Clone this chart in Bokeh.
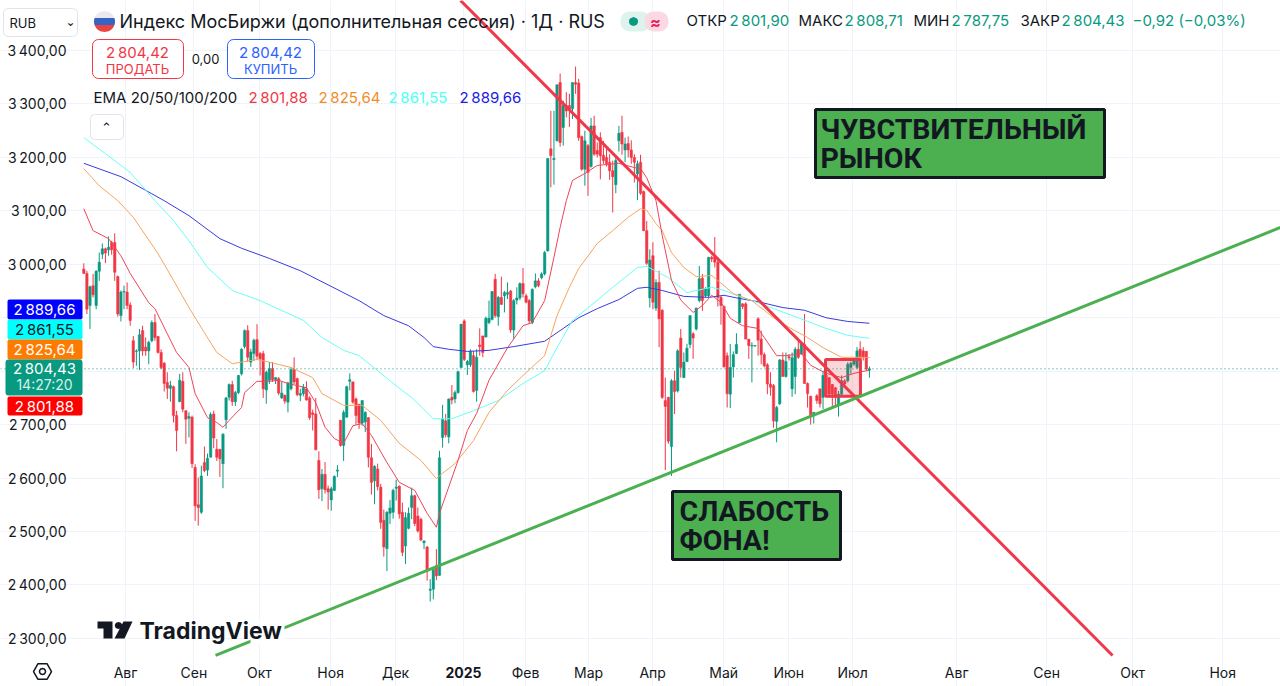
import math
from bokeh.embed import file_html
from bokeh.resources import INLINE
from bokeh.models import (BoxAnnotation, ColumnDataSource, FixedTicker, Label,
                          PolyAnnotation, Range1d, Span)
from bokeh.plotting import figure

TITLE = "Индекс МосБиржи (дополнительная сессия) · 1Д · RUS"
LAST_PRICE = 2804.43

OPENS = [2991,2983,2923,2960,2923,2987,3019,3029,3027,3041,3041,2977,2904,2948,2948,2924,
2857,2837,2838,2876,2845,2838,2857,2891,2865,2835,2815,2779,2768,2771,2717,2743,2781,2726,2712,2714,
2620,2550,2536,2629,2615,2639,2720,2654,2654,2627,2709,2751,2775,2743,2760,2795,
2846,2876,2817,2833,2859,2833,2833,2765,2783,2805,2784,2786,2750,2755,2742,2767,2803,2786,2755,2758,2767,2750,2722,2720,
2633,2580,2607,2580,2559,2577,2613,2708,2661,2714,2781,2780,2748,2738,2703,2705,2713,2638,2595,2617,2583,2521,2468,2534,2536,2581,2585,
2536,2473,2506,2545,2567,2529,2523,2479,2471,2390,2392,2436,2418,2676,2707,2677,2751,2748,2760,2807,2894,2812,2812,2829,2764,2849,2866,2864,2891,2897,2972,2902,2938,2941,2944,2950,2877,2933,2937,2964,2941,2932,2891,2958,2969,2975,
2982,3025,3216,3196,3231,3340,3256,3297,3297,3291,3340,3339,3239,3178,3222,3183,3259,3213,3237,3204,3200,3191,3175,3149,3231,3247,3214,3226,3214,3200,3169,3191,3136,3063,2937,3016,2918,
2966,2914,2745,2751,2659,2782,2763,2862,2788,2818,2850,2870,2879,2932,2974,2941,2941,3013,3014,3004,2938,2921,2829,2757,2808,2833,2891,2926,2926,2860,2847,2847,2898,2860,2831,2812,2776,2773,2706,2739,2821,2790,2827,2767,2790,2841,2832,2850,2777,2753,2719,2754,2767,2751,2792,2788,2775,2769,2739,2757,2782,2782,2807,2813,2807,2841,2838,2837,2801.90]
HIGHS = [3002,2988,2960,2982,2989,3022,3039,3031,3052,3044,3058,2979,2951,2960,2966,2929,
2866,2841,2879,2885,2863,2857,2895,2907,2866,2841,2817,2798,2782,2773,2726,2795,2798,2727,2723,2717,
2626,2601,2623,2659,2646,2723,2726,2673,2654,2684,2752,2777,2782,2763,2793,2843,
2878,2886,2842,2861,2888,2836,2838,2801,2817,2817,2789,2789,2780,2756,2780,2808,2826,2788,2767,2776,2781,2753,2728,2750,
2650,2617,2630,2586,2584,2605,2624,2709,2727,2773,2796,2780,2751,2739,2746,2725,2714,2664,2624,2627,2589,2541,2538,2559,2580,2597,2586,
2554,2536,2545,2582,2569,2545,2526,2484,2473,2411,2429,2467,2651,2737,2720,2749,2774,2764,2801,2888,2897,2821,2841,2838,2841,2880,2866,2902,2932,2950,2982,2941,2977,2950,2966,2952,2935,2957,2966,2993,2945,2935,2955,2983,2974,2985,
3025,3198,3287,3287,3336,3357,3306,3322,3319,3340,3370,3347,3241,3250,3225,3274,3278,3228,3247,3231,3219,3206,3194,3200,3259,3278,3237,3239,3232,3206,3194,3205,3138,3081,3028,3041,2972,
2988,2916,2788,2752,2785,2801,2841,2879,2835,2851,2904,2873,2919,2997,2982,2957,3014,3016,3051,3013,2941,2923,2835,2851,2837,2871,2944,2927,2929,2860,2854,2848,2901,2876,2835,2815,2798,2776,2735,2823,2835,2835,2832,2835,2845,2860,2851,2907,2779,2754,2723,2757,2767,2801,2804,2788,2776,2770,2763,2792,2785,2817,2818,2826,2845,2856,2845,2838,2808.71]
LOWS = [2982,2907,2879,2938,2916,2969,3010,3002,3016,3018,2969,2902,2893,2916,2916,2885,
2806,2810,2802,2829,2829,2813,2854,2857,2833,2804,2762,2748,2743,2704,2650,2742,2723,2664,2676,2619,
2520,2511,2533,2611,2604,2639,2656,2632,2602,2581,2692,2745,2735,2735,2757,2792,
2842,2817,2808,2819,2823,2792,2750,2739,2776,2780,2776,2755,2748,2739,2723,2764,2776,2753,2744,2753,2745,2709,2689,2652,
2561,2557,2571,2541,2539,2576,2602,2659,2632,2713,2764,2739,2700,2692,2698,2686,2620,2569,2551,2577,2505,2453,2426,2514,2524,2558,2524,
2454,2439,2504,2523,2510,2498,2482,2467,2408,2369,2373,2409,2417,2657,2676,2665,2738,2740,2758,2806,2819,2793,2808,2760,2743,2829,2826,2863,2888,2895,2900,2885,2924,2910,2935,2872,2860,2925,2933,2938,2927,2888,2888,2955,2957,2972,
2979,3024,3144,3149,3230,3220,3222,3275,3257,3272,3319,3231,3175,3147,3128,3181,3203,3200,3159,3188,3183,3158,3097,3133,3211,3205,3191,3200,3188,3153,3120,3130,3062,2999,2919,2916,2913,
2845,2748,2615,2664,2604,2720,2760,2788,2787,2817,2843,2823,2876,2929,2913,2938,2938,3004,2994,2921,2887,2807,2732,2731,2788,2832,2890,2916,2860,2823,2779,2846,2829,2813,2807,2757,2754,2694,2667,2737,2790,2788,2820,2752,2757,2823,2831,2776,2732,2700,2702,2739,2732,2729,2751,2751,2735,2735,2715,2754,2770,2779,2795,2810,2804,2820,2820,2801,2787.75]
CLOSES = [2983,2916,2958,2943,2987,3004,3029,3021,3032,3027,2985,2907,2948,2949,2923,2895,
2817,2838,2868,2838,2838,2854,2891,2863,2835,2807,2777,2768,2773,2717,2689,2783,2729,2710,2715,2627,
2548,2545,2604,2614,2637,2719,2675,2639,2636,2682,2750,2775,2743,2760,2792,2841,
2876,2826,2836,2858,2828,2823,2767,2798,2805,2784,2788,2759,2759,2744,2778,2803,2780,2756,2758,2770,2746,2713,2719,2653,
2578,2607,2578,2574,2580,2603,2615,2661,2723,2771,2784,2742,2717,2703,2745,2723,2639,2592,2622,2584,2517,2471,2536,2544,2577,2583,2533,
2461,2526,2534,2567,2515,2501,2484,2482,2426,2392,2429,2417,2638,2710,2681,2748,2746,2760,2799,2888,2822,2818,2837,2762,2826,2846,2835,2899,2899,2949,2904,2938,2925,2947,2947,2877,2932,2937,2964,2945,2929,2894,2953,2969,2960,2982,
3022,3198,3203,3198,3336,3228,3297,3287,3291,3340,3337,3237,3178,3231,3172,3259,3206,3206,3203,3194,3188,3175,3164,3194,3245,3225,3225,3214,3200,3191,3188,3133,3063,3002,3008,2929,2966,
2898,2751,2734,2669,2782,2762,2838,2807,2817,2843,2904,2862,2918,2973,2932,2954,3013,3010,3004,2938,2923,2808,2758,2807,2831,2850,2944,2921,2860,2848,2848,2848,2858,2831,2810,2776,2770,2707,2732,2821,2790,2818,2825,2825,2841,2826,2851,2777,2758,2717,2723,2745,2739,2792,2757,2757,2757,2751,2757,2782,2776,2813,2815,2820,2838,2823,2826,2804,2804.43]

EMA20_IDX = [0,3,8,12,15,21,23,27,30,34,36,40,43,45,47,51,52,56,60,63,66,72,75,78,81,84,87,90,93,98,102,107,111,114,115,121,124,127,131,137,142,145,149,152,154,156,158,162,166,173,178,180,182,185,187,190,193,197,200,203,206,209,213,218,220,224,227,232,235,240,245,249,254]
EMA20 = [3104,3063,3048,3016,2983,2928,2917,2870,2835,2807,2758,2713,2704,2695,2708,2732,2760,2781,2781,2783,2777,2769,2741,2695,2674,2665,2698,2702,2680,2629,2592,2577,2534,2508,2534,2633,2689,2721,2783,2844,2885,2891,2932,3013,3069,3119,3157,3170,3185,3189,3181,3179,3162,3119,3054,2970,2933,2910,2923,2942,2929,2899,2885,2880,2863,2829,2829,2833,2811,2796,2788,2796,2801.88]
EMA50_IDX = [0,5,11,16,24,29,34,39,43,48,56,62,67,74,77,84,90,96,102,109,114,116,120,126,131,137,142,149,153,157,160,166,171,176,180,182,185,187,190,194,198,203,207,210,216,223,228,234,239,245,250,254]
EMA50 = [3179,3147,3119,3088,3020,2970,2919,2872,2835,2814,2822,2814,2807,2788,2758,2736,2736,2708,2665,2633,2599,2609,2627,2670,2723,2764,2792,2829,2904,2957,2992,3039,3063,3088,3104,3101,3076,3063,3022,2994,2977,2979,2960,2945,2932,2900,2882,2863,2844,2826,2826,2825.64]
EMA100_IDX = [0,7,15,23,29,34,40,48,57,71,77,84,89,95,102,106,113,119,126,134,142,149,153,158,164,171,179,182,189,195,203,207,212,218,223,231,239,247,254]
EMA100 = [3237,3207,3172,3119,3082,3044,2994,2951,2932,2895,2863,2839,2829,2801,2768,2751,2711,2711,2726,2745,2777,2801,2844,2895,2923,2957,2994,2996,2975,2947,2957,2951,2940,2928,2917,2900,2882,2867,2861.55]
EMA200_IDX = [0,12,22,26,34,44,51,60,70,89,97,105,110,113,118,124,131,139,149,153,160,166,173,179,182,187,194,202,207,212,218,226,233,240,247,254]
EMA200 = [3189,3164,3132,3119,3091,3048,3030,3011,2988,2932,2904,2885,2863,2846,2841,2837,2839,2846,2856,2872,2900,2917,2934,2955,2957,2951,2940,2938,2942,2936,2930,2919,2914,2900,2893,2889.66]
EMA_LAST = ["2\u2009801,88", "2\u2009825,64", "2\u2009861,55", "2\u2009889,66"]

RED_TREND_X = [121.8, 332.6]
RED_TREND_Y = [3493.6, 2268.1]
GREEN_TREND_X = [42.6, 386.9]
GREEN_TREND_Y = [2268.1, 3069.0]
ZONE_X = [239.8, 251.1]
ZONE_Y = [2753.0, 2822.0]

MONTH_TICKS = [13.5,35.6,56.8,79.8,100.8,122.8,142.8,163.2,183.9,206.9,227.9,248.6,282.2,311.3,339.1,368.2]
MONTH_LABELS = ["Авг","Сен","Окт","Ноя","Дек","2025","Фев","Мар","Апр","Май","Июн","Июл","Авг","Сен","Окт","Ноя"]
PRICE_TICKS = [3400,3300,3200,3100,3000,2900,2800,2700,2600,2500,2400,2300]
PRICE_LABELS = ["3\u2009400,00","3\u2009300,00","3\u2009200,00","3\u2009100,00","3\u2009000,00","","","2\u2009700,00","2\u2009600,00","2\u2009500,00","2\u2009400,00","2\u2009300,00"]

UP = "#089981"; DOWN = "#f23645"; INK = "#131722"; GRID = "#f0f3fa"
FONT = "Inter"
H = 686
AXIS_X = -1.07            # bar position of the price scale
AXIS_Y = 2268.1           # price at the time scale
TOP_Y = 3493.6
RIGHT_X = 386.9

p = figure(width=1280, height=H, output_backend="svg", toolbar_location=None,
           x_range=Range1d(-26.93, RIGHT_X), y_range=Range1d(2210.0, TOP_Y),
           min_border_left=0, min_border_right=0, min_border_top=0, min_border_bottom=0)
p.outline_line_color = None
p.background_fill_color = "white"
p.grid.grid_line_color = GRID
p.grid.grid_line_width = 1
p.xgrid.bounds = (AXIS_Y, TOP_Y)
p.ygrid.bounds = (AXIS_X, RIGHT_X)

p.xaxis.ticker = FixedTicker(ticks=MONTH_TICKS)
p.xaxis.major_label_overrides = {t: ("" if l == "2025" else l) for t, l in zip(MONTH_TICKS, MONTH_LABELS)}
p.yaxis.ticker = FixedTicker(ticks=PRICE_TICKS)
p.yaxis.major_label_overrides = dict(zip(PRICE_TICKS, PRICE_LABELS))
p.xaxis.fixed_location = AXIS_Y
p.yaxis.fixed_location = AXIS_X
for ax in (p.xaxis[0], p.yaxis[0]):
    ax.axis_line_color = None
    ax.major_tick_line_color = None
    ax.minor_tick_line_color = None
    ax.major_label_text_font = FONT
    ax.major_label_text_font_size = "14px"
    ax.major_label_text_color = INK
p.xaxis.major_label_standoff = 3
p.yaxis.major_label_standoff = 8

n = len(OPENS)
src = ColumnDataSource(dict(
    x=list(range(n)), o=OPENS, h=HIGHS, l=LOWS, c=CLOSES,
    color=[UP if c >= o else DOWN for o, c in zip(OPENS, CLOSES)]))
p.segment("x", "l", "x", "h", color="color", line_width=1, source=src)
p.vbar(x="x", bottom="o", top="c", width=0.78, fill_color="color", line_color="color", line_width=0.5, source=src)

p.line(EMA200_IDX, EMA200, line_color="#3a3ae0", line_width=1)
p.line(EMA100_IDX, EMA100, line_color="#66fff5", line_width=1)
p.line(EMA50_IDX, EMA50, line_color="#f9a45c", line_width=1)
p.line(EMA20_IDX, EMA20, line_color="#ef4458", line_width=1)

p.add_layout(Span(location=LAST_PRICE, dimension="width", line_color=UP, line_width=1, line_dash=[1, 3]))

p.quad(left=ZONE_X[0], right=ZONE_X[1], bottom=ZONE_Y[0], top=ZONE_Y[1],
       fill_color=DOWN, fill_alpha=0.2, line_color="#ea3a4c", line_width=3)
p.line(RED_TREND_X, RED_TREND_Y, line_color="#f0384a", line_width=3)
p.line(GREEN_TREND_X, GREEN_TREND_Y, line_color="#4caf50", line_width=3)


def box(x0, y0, x1, y1, fill="white", line=None, lw=1, radius=0):
    p.add_layout(BoxAnnotation(left=x0, right=x1, bottom=H - y1, top=H - y0,
                               left_units="screen", right_units="screen",
                               bottom_units="screen", top_units="screen",
                               fill_color=fill, fill_alpha=1, line_color=line, line_width=lw,
                               line_alpha=1 if line else 0, border_radius=radius))


def txt(x, y, text, size=15, color=INK, style="normal", align="left", font=FONT):
    p.add_layout(Label(x=x, y=H - y, x_units="screen", y_units="screen", text=text,
                       text_font=font, text_font_size=f"{size}px", text_color=color,
                       text_font_style=style, text_align=align, text_baseline="middle"))


def poly(xs, ys, fill, line=None, lw=1):
    p.add_layout(PolyAnnotation(xs=list(xs), ys=[H - b for b in ys],
                                xs_units="screen", ys_units="screen", fill_color=fill, fill_alpha=1,
                                line_color=line, line_width=lw, line_alpha=1 if line else 0))


def band(cx, cy, r, y0, y1, fill):
    steps = [y0 + (y1 - y0) * k / 8 for k in range(9)]
    half = [math.sqrt(max(r * r - (s - cy) ** 2, 0)) for s in steps]
    poly([cx - h for h in half] + [cx + h for h in reversed(half)], steps + steps[::-1], fill)


# header
box(3, 8, 77, 36, line="#e0e3eb", radius=5)
txt(9, 22, "RUB", 13)
txt(70, 21, "\u2304", 12, font="DejaVu Sans", align="center")
band(104, 21, 10.5, 10.5, 17.5, "#e9e9ee")
band(104, 21, 10.5, 17.5, 24.5, "#3464c4")
band(104, 21, 10.5, 24.5, 31.5, "#ea4440")
txt(119, 21, TITLE, 18)
box(620, 11, 650, 31, fill="#dff3ee", radius=9)
box(644, 11, 668, 31, fill="#fbd9e3", radius=9)
band(633, 21, 4.5, 16.5, 25.5, UP)
txt(655, 21, "≈", 16, color="#e91e63", style="bold", align="center")

for lx, lab, vx, val in [(686, "ОТКР", 729, "2\u2009801,90"), (798, "МАКС", 844, "2\u2009808,71"),
                         (913, "МИН", 951, "2\u2009787,75"), (1020, "ЗАКР", 1061, "2\u2009804,43")]:
    txt(lx, 20, lab, 15)
    txt(vx, 20, val, 15, color=UP)
txt(1132, 20, "−0,92 (−0,03%)", 15, color=UP)

box(92, 39, 183, 78, line="#f23645", radius=6)
txt(137, 52, "2\u2009804,42", 15, color="#f23645", align="center")
txt(137, 68, "ПРОДАТЬ", 13, color="#f23645", align="center")
txt(205, 58, "0,00", 13, align="center")
box(227, 39, 314, 78, line="#2962ff", radius=6)
txt(270, 52, "2\u2009804,42", 15, color="#2962ff", align="center")
txt(270, 68, "КУПИТЬ", 13, color="#2962ff", align="center")

txt(93, 97, "EMA 20/50/100/200", 15)
for x, val, col in zip((248, 318, 388, 459), EMA_LAST, ("#f23645", "#f28c28", "#4dfff5", "#2020e0")):
    txt(x, 97, val, 15, color=col)
box(90, 114, 123, 139, line="#e0e3eb", radius=4)
txt(106, 127, "\u2303", 13, font="DejaVu Sans", align="center")

# price tags on the scale
for y0, y1, fill, val, col in [(299, 319, "#0000ff", EMA_LAST[3], "white"), (319, 339, "#00ffff", EMA_LAST[2], INK),
                               (339, 359, "#ff7b00", EMA_LAST[1], "white"), (396, 415, "#ff0000", EMA_LAST[0], "white")]:
    box(7, y0, 82, y1, fill=fill, radius=2)
    txt(44, (y0 + y1) / 2, val, 15, color=col, align="center")
box(5, 359, 82, 395, fill=UP, radius=3)
txt(44, 368, "2\u2009804,43", 15, color="white", align="center")
txt(44, 384, "14:27:20", 14, color="#d7f0ea", align="center")

# bold year tick label
txt(463, 672, MONTH_LABELS[MONTH_TICKS.index(122.8)], 14, style="bold", align="center")

# callouts
box(815, 109, 1104, 177, fill="#4caf50", line=INK, lw=3)
txt(820, 129, "ЧУВСТВИТЕЛЬНЫЙ", 28.5, color=INK, style="bold", font="Roboto")
txt(820, 158, "РЫНОК", 28.5, color=INK, style="bold", font="Roboto")
box(672, 491, 840, 559, fill="#4caf50", line=INK, lw=3)
txt(679, 511, "СЛАБОСТЬ", 28.5, color=INK, style="bold", font="Roboto")
txt(679, 540, "ФОНА!", 28.5, color=INK, style="bold", font="Roboto")

# watermark
box(250, 620, 284, 644)
txt(139, 630, "TradingView", 23, color=INK, style="bold")
poly([97, 112, 112, 103, 103, 97], [621, 621, 638, 638, 628, 628], INK)
poly([123, 132, 124, 114], [621, 621, 638, 638], INK)
band(118, 625, 3.6, 621.4, 628.6, INK)

# settings icon
hx = [42 + 9 * math.cos(math.radians(a)) for a in range(0, 360, 60)]
hy = [671 + 9 * math.sin(math.radians(a)) for a in range(0, 360, 60)]
poly(hx, hy, "white", line=INK, lw=1.5)
cx = [42 + 3 * math.cos(math.radians(a)) for a in range(0, 360, 30)]
cy = [671 + 3 * math.sin(math.radians(a)) for a in range(0, 360, 30)]
poly(cx, cy, "white", line=INK, lw=1.5)

open("out.html", "w").write(file_html(p, INLINE))
